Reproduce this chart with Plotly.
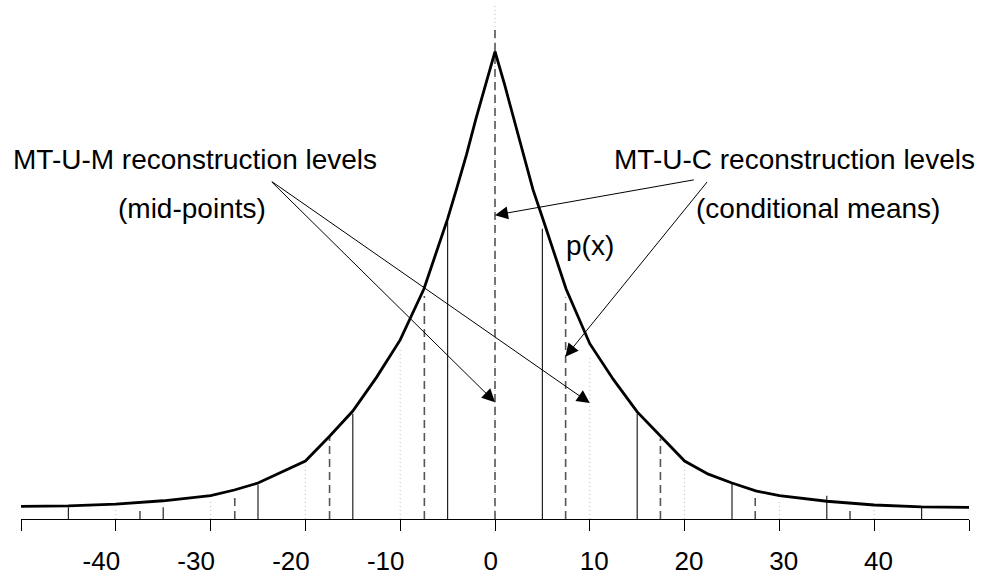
import plotly.graph_objects as go

# ---- data ----
curve_x = [-50, -45, -40, -35, -30, -27.5, -25, -22.5, -20, -17.5, -15, -12.5, -10, -7.5, -5, -4, -3, -2, -1, 0,
           1, 2, 3, 4, 5, 7.5, 10, 12.5, 15, 17.5, 20, 22.5, 25, 27.5, 30, 35, 40, 45, 50]
curve_p = [0.027, 0.028, 0.032, 0.039, 0.050, 0.062, 0.077, 0.100, 0.124, 0.176, 0.231, 0.303, 0.383, 0.492, 0.642,
           0.71, 0.78, 0.857, 0.93, 1.0,
           0.93, 0.857, 0.78, 0.705, 0.645, 0.492, 0.375, 0.298, 0.229, 0.176, 0.124, 0.096, 0.077, 0.060, 0.050,
           0.038, 0.030, 0.026, 0.025]

bound_x = [-45, -35, -25, -15, -5, 5, 15, 25, 35, 45]
bound_h = [0.025, 0.025, 0.073, 0.225, 0.636, 0.621, 0.225, 0.077, 0.050, 0.025]

cmean_x = [-37.45, -27.45, -17.45, -7.45, 0, 7.45, 17.45, 27.45, 37.45]
cmean_h = [0.025, 0.050, 0.176, 0.477, 1.050, 0.474, 0.172, 0.050, 0.025]

mid_x = [-40, -30, -20, -10, 0, 10, 20, 30, 40]
mid_h = [0.025, 0.042, 0.115, 0.362, 1.099, 0.351, 0.120, 0.042, 0.025]

tick_vals = [-50, -40, -30, -20, -10, 0, 10, 20, 30, 40, 50]
tick_text = ["", "-40", "-30", "-20", "-10", "0", "10", "20", "30", "40", ""]

labels = ["MT-U-M reconstruction levels", "(mid-points)",
          "MT-U-C reconstruction levels", "(conditional means)", "p(x)"]
label_x = [-31.6, -32.0, 31.6, 34.1, 10.06]
label_y = [0.768, 0.664, 0.768, 0.664, 0.585]

# arrows: tail -> tip
arrow_tail_x = [-23.7, -23.7, 21.13, 22.5]
arrow_tail_y = [0.724, 0.724, 0.726, 0.724]
arrow_tip_x = [0, 10, 0, 7.42]
arrow_tip_y = [0.250, 0.248, 0.650, 0.347]

FONT = "Liberation Sans, Arial, Helvetica, sans-serif"


def segs(xs, hs):
    X, Y = [], []
    for x, h in zip(xs, hs):
        X += [x, x, None]
        Y += [0, h, None]
    return X, Y


def tick_label(v, t):
    # the reference's labels sit slightly off-centre from their ticks
    if not t:
        return t
    if v < 0:
        return t + "\u2007\u2007"
    if v == 0:
        return t + "\u2006\u2006"
    return "\u2006\u2006" + t


fig = go.Figure()

mx, my = segs(mid_x, mid_h)
fig.add_trace(go.Scatter(x=mx, y=my, mode="lines",
                         line=dict(color="#bdbdbd", width=1, dash="1px,3px"), hoverinfo="skip"))
bx, by = segs(bound_x, bound_h)
fig.add_trace(go.Scatter(x=bx, y=by, mode="lines",
                         line=dict(color="#222222", width=1.2), hoverinfo="skip"))
cx, cy = segs(cmean_x, cmean_h)
fig.add_trace(go.Scatter(x=cx, y=cy, mode="lines",
                         line=dict(color="#555555", width=1.6, dash="8px,5px"), hoverinfo="skip"))
fig.add_trace(go.Scatter(x=curve_x, y=curve_p, mode="lines",
                         line=dict(color="black", width=2.8), hoverinfo="skip"))

annotations = []
for t, x, y in zip(labels, label_x, label_y):
    annotations.append(dict(x=x, y=y, xref="x", yref="y", text=t, showarrow=False,
                            xanchor="center", yanchor="middle",
                            font=dict(family=FONT, size=28, color="black")))
for tx, ty, hx, hy in zip(arrow_tail_x, arrow_tail_y, arrow_tip_x, arrow_tip_y):
    annotations.append(dict(x=hx, y=hy, xref="x", yref="y", ax=tx, ay=ty, axref="x", ayref="y",
                            text="", showarrow=True, arrowhead=2, arrowsize=2.6, arrowwidth=1,
                            arrowcolor="black", standoff=0, startstandoff=0))

fig.update_layout(
    width=984, height=576,
    margin=dict(l=21, r=15, t=0, b=49),
    plot_bgcolor="white", paper_bgcolor="white",
    showlegend=False,
    annotations=annotations,
    xaxis=dict(range=[-50, 50], tickvals=tick_vals,
               ticktext=[tick_label(v, t) for v, t in zip(tick_vals, tick_text)],
               showgrid=False, zeroline=False, showline=True, linecolor="black", linewidth=1,
               ticks="outside", ticklen=11, tickwidth=1, tickcolor="black",
               tickfont=dict(family=FONT, size=26, color="black"), ticklabelstandoff=8),
    yaxis=dict(range=[0, 527 / 474.7], visible=False, showgrid=False, zeroline=False),
)

fig.write_html("out.html")
